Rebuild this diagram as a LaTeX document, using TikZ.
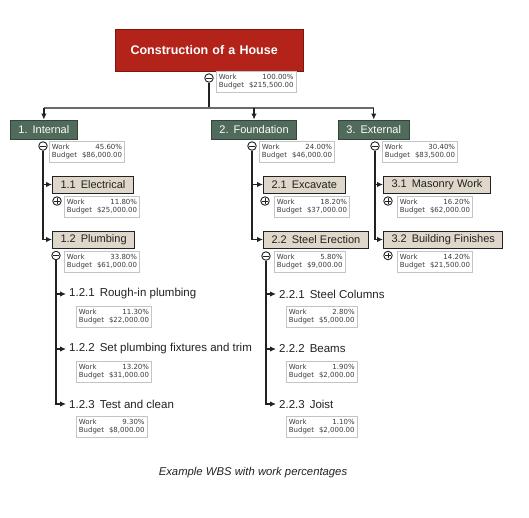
\documentclass[tikz,border=0pt]{standalone}
\usepackage{fontspec}
\setmainfont{Liberation Sans}
\newfontfamily\infofont{DejaVu Sans}
\usetikzlibrary{arrows.meta}
\definecolor{rootred}{HTML}{B3231A}
\definecolor{rootedge}{HTML}{7A1810}
\definecolor{greenbox}{HTML}{506A5B}
\definecolor{greenedge}{HTML}{33453A}
\definecolor{beige}{HTML}{DFD7CA}
\definecolor{darkline}{HTML}{222222}
\definecolor{textdark}{HTML}{222222}
\definecolor{infoedge}{HTML}{C4C4C4}
\definecolor{infotext}{HTML}{3C3C3C}
\definecolor{busgray}{HTML}{6A6A6A}
\newcommand\gp{\hspace{5pt}}
\newcommand\wb[2]{{\renewcommand\arraystretch{1}\begin{tabular}{@{}l@{\hspace{5pt}}r@{}}Work & #1\\ Budget & #2\end{tabular}}}
\tikzset{
  rootbox/.style={draw=rootedge, fill=rootred, line width=1pt, text=white,
    font=\fontsize{12.5}{14}\selectfont\bfseries, minimum height=42pt,
    text width=158pt, inner xsep=15pt, align=left, anchor=west},
  lvlone/.style={draw=greenedge, fill=greenbox, line width=0.9pt, text=white,
    font=\fontsize{11}{13}\selectfont, minimum height=19pt, inner xsep=8pt,
    inner ysep=0pt, anchor=west},
  lvltwo/.style={draw=darkline, fill=beige, line width=1pt, text=textdark,
    font=\fontsize{11}{13}\selectfont, minimum height=17pt, inner xsep=8pt,
    inner ysep=0pt, anchor=west},
  task/.style={text=textdark, font=\fontsize{11.5}{13}\selectfont,
    inner xsep=3pt, inner ysep=1pt, anchor=west},
  info/.style={draw=infoedge, fill=white, line width=0.7pt, text=infotext,
    font=\infofont\fontsize{7}{8.5}\selectfont, inner xsep=2.5pt,
    inner ysep=2pt, anchor=north west},
  toggle/.style={circle, draw=darkline, fill=white, line width=0.9pt,
    minimum size=8.5pt, inner sep=0pt},
  tgminus/.style={toggle, path picture={
    \draw[darkline, line width=0.9pt] ([xshift=-2.8pt]path picture bounding box.center) -- ([xshift=2.8pt]path picture bounding box.center);}},
  tgplus/.style={toggle, path picture={
    \draw[darkline, line width=0.9pt] ([xshift=-2.8pt]path picture bounding box.center) -- ([xshift=2.8pt]path picture bounding box.center)
      ([yshift=-2.8pt]path picture bounding box.center) -- ([yshift=2.8pt]path picture bounding box.center);}},
  conn/.style={draw=darkline, line width=1.3pt},
  arr/.style={conn, -{Latex[length=6pt,width=5.5pt]}},
  busline/.style={draw=busgray, line width=1.2pt},
}
\begin{document}
\begin{tikzpicture}[x=1pt,y=-1pt]
\useasboundingbox[fill=white] (0,0) rectangle (529,517);

% root
\node[rootbox] (root) at (115,50) {Construction of a House};
\node[tgminus] (c0) at (209,78) {};
\node[info] (i0) at (216,71) {\wb{100.00\%}{\$215,500.00}};
\coordinate (bus) at (209,108);

% level 1
\node[lvlone] (n1) at (10,129.5) {1.\gp Internal};
\node[lvlone] (n2) at (211,129.5) {2.\gp Foundation};
\node[lvlone] (n3) at (338,129.5) {3.\gp External};

\draw[conn] (c0.south) -- (bus);
\draw[busline] (bus -| n1.north) -- (bus -| n3.north);
\draw[arr] (bus -| n1.north) -- (n1.north);
\draw[arr] (bus -| n2.north) -- (n2.north);
\draw[arr] (bus -| n3.north) -- (n3.north);

\node[tgminus] (c1) at (43,146) {};
\node[tgminus] (c2) at (252,146) {};
\node[tgminus] (c3) at (375,146) {};
\node[info] (i1) at (49,141) {\wb{45.60\%}{\$86,000.00}};
\node[info] (i2) at (259,141) {\wb{24.00\%}{\$46,000.00}};
\node[info] (i3) at (382,141) {\wb{30.40\%}{\$83,500.00}};

% level 2
\node[lvltwo] (n11) at (52,184.5) {1.1\gp Electrical};
\node[lvltwo] (n12) at (52,239.5) {1.2\gp Plumbing};
\node[lvltwo] (n21) at (263,184.5) {2.1\gp Excavate};
\node[lvltwo] (n22) at (263,239.5) {2.2\gp Steel Erection};
\node[lvltwo] (n31) at (383,184.5) {3.1\gp Masonry Work};
\node[lvltwo] (n32) at (383,239.5) {3.2\gp Building Finishes};

\draw[arr] (c1.south) |- (n11.west);
\draw[arr] (c1.south) |- (n12.west);
\draw[arr] (c2.south) |- (n21.west);
\draw[arr] (c2.south) |- (n22.west);
\draw[arr] (c3.south) |- (n31.west);
\draw[arr] (c3.south) |- (n32.west);

\node[tgplus] (c11) at (57,201) {};
\node[tgminus] (c12) at (56,255.5) {};
\node[tgplus] (c21) at (265,201) {};
\node[tgminus] (c22) at (266,256) {};
\node[tgplus] (c31) at (388,201) {};
\node[tgplus] (c32) at (388,255.5) {};
\node[info] (i11) at (64,196) {\wb{11.80\%}{\$25,000.00}};
\node[info] (i12) at (64,251) {\wb{33.80\%}{\$61,000.00}};
\node[info] (i21) at (274,196) {\wb{18.20\%}{\$37,000.00}};
\node[info] (i22) at (274,251) {\wb{5.80\%}{\$9,000.00}};
\node[info] (i31) at (397,196) {\wb{16.20\%}{\$62,000.00}};
\node[info] (i32) at (397,251) {\wb{14.20\%}{\$21,500.00}};

% level 3
\node[task] (t121) at (66,294) {1.2.1\gp Rough-in plumbing};
\node[task] (t122) at (66,349) {1.2.2\gp Set plumbing fixtures and trim};
\node[task] (t123) at (66,404) {1.2.3\gp Test and clean};
\node[task] (t221) at (276,294) {2.2.1\gp Steel Columns};
\node[task] (t222) at (276,349) {2.2.2\gp Beams};
\node[task] (t223) at (276,404) {2.2.3\gp Joist};

\draw[arr] (c12.south) |- (t121.west);
\draw[arr] (c12.south) |- (t122.west);
\draw[arr] (c12.south) |- (t123.west);
\draw[arr] (c22.south) |- (t221.west);
\draw[arr] (c22.south) |- (t222.west);
\draw[arr] (c22.south) |- (t223.west);

\node[info] (i121) at (76,306) {\wb{11.30\%}{\$22,000.00}};
\node[info] (i122) at (76,361) {\wb{13.20\%}{\$31,000.00}};
\node[info] (i123) at (76,416) {\wb{9.30\%}{\$8,000.00}};
\node[info] (i221) at (286,306) {\wb{2.80\%}{\$5,000.00}};
\node[info] (i222) at (286,361) {\wb{1.90\%}{\$2,000.00}};
\node[info] (i223) at (286,416) {\wb{1.10\%}{\$2,000.00}};

% caption
\node[text=textdark, font=\fontsize{11.3}{13}\selectfont\itshape] (cap) at (253,473) {Example WBS with work percentages};
\end{tikzpicture}
\end{document}
